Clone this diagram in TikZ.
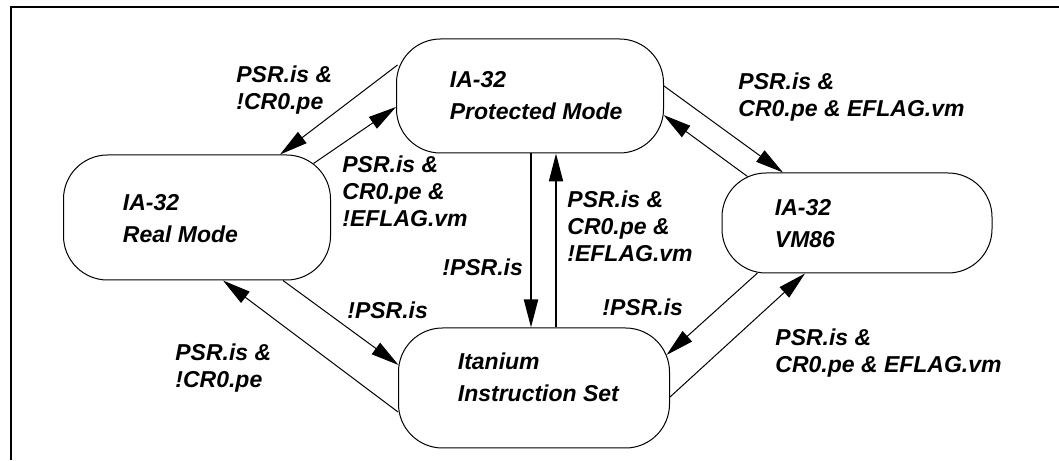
\documentclass[tikz,border=0pt]{standalone}
\usepackage{fontspec}
\setmainfont{Liberation Sans}
\usepackage{tikz}
\usetikzlibrary{arrows.meta,positioning}

\begin{document}
\begin{tikzpicture}[x=0.5pt,y=0.5pt,
    estado/.style={draw, line width=0.5pt, rounded corners=22pt},
    nome/.style={inner sep=0pt, align=left, font=\fontsize{11.5}{16}\selectfont\bfseries\itshape},
    cond/.style={inner sep=0pt, align=left, anchor=north west, font=\fontsize{11.5}{13.5}\selectfont\bfseries\itshape},
    seta/.style={-{Triangle[length=14pt,width=7pt]}, line width=0.5pt}]
          \useasboundingbox (0,0) rectangle (1059,460);
          \draw[line width=0.8pt] (11,0) -- (11,453) -- (1059,453);

            % Estados
          \node[estado, minimum width=133.5pt, minimum height=57pt] (prot) at (530,364) {};
          \node[estado, minimum width=133.5pt, minimum height=62.5pt] (real) at (197,242.5) {};
          \node[estado, minimum width=135pt, minimum height=50pt] (vm86) at (857,237) {};
          \node[estado, minimum width=135.5pt, minimum height=60pt] (itan) at (534,72) {};

          \node[nome, below right=16.5pt and 26.75pt of prot.north west] (prot-txt) {IA-32\\Protected Mode};
          \node[nome, below right=20pt and 29.75pt of real.north west] (real-txt) {IA-32\\Real Mode};
          \node[nome, below right=13.5pt and 26.5pt of vm86.north west] (vm86-txt) {IA-32\\VM86};
          \node[nome, below right=12.5pt and 29.75pt of itan.north west] (itan-txt) {Itanium\\Instruction Set};

            % Transições
          \draw[seta] ([shift={(1.5,31)}]prot.west) -- ([shift={(83,0)}]real.north);
          \draw[seta] ([shift={(-17.5,-9)}]real.north east) -- ([shift={(0,-11)}]prot.west);
          \draw[seta] ([shift={(0,10)}]prot.east) -- ([shift={(-74,0)}]vm86.north);
          \draw[seta] ([shift={(26,-4)}]vm86.north west) -- ([shift={(-0.5,-19)}]prot.east);
          \draw[seta, line width=1pt] ([shift={(1,0)}]prot.south) -- ([shift={(-3,0)}]itan.north);
          \draw[seta, line width=1pt] ([shift={(22,0)}]itan.north) -- ([shift={(26,0)}]prot.south);
          \draw[seta] ([shift={(86,0)}]real.south) -- ([shift={(0.5,23)}]itan.west);
          \draw[seta] ([shift={(0,-24)}]itan.west) -- ([shift={(26,0)}]real.south);
          \draw[seta] ([shift={(36,0.5)}]vm86.south west) -- ([shift={(-3.5,33)}]itan.east);
          \draw[seta] ([shift={(0,-9)}]itan.east) -- ([shift={(-52,0)}]vm86.south);

            % Condições
          \node[cond] (c-prot-real) at (236,395) {PSR.is \&\\!CR0.pe};
          \node[cond] (c-real-prot) at (342,305) {PSR.is \&\\CR0.pe \&\\!EFLAG.vm};
          \node[cond] (c-prot-vm86) at (738,388) {PSR.is \&\\CR0.pe \& EFLAG.vm};
          \node[cond] (c-prot-itan) at (442,202) {!PSR.is};
          \node[cond] (c-itan-prot) at (567,270) {PSR.is \&\\CR0.pe \&\\!EFLAG.vm};
          \node[cond] (c-real-itan) at (347,159) {!PSR.is};
          \node[cond] (c-itan-real) at (175,117) {PSR.is \&\\!CR0.pe};
          \node[cond] (c-vm86-itan) at (602,162) {!PSR.is};
          \node[cond] (c-itan-vm86) at (775,132) {PSR.is \&\\CR0.pe \& EFLAG.vm};
        \end{tikzpicture}
\end{document}
